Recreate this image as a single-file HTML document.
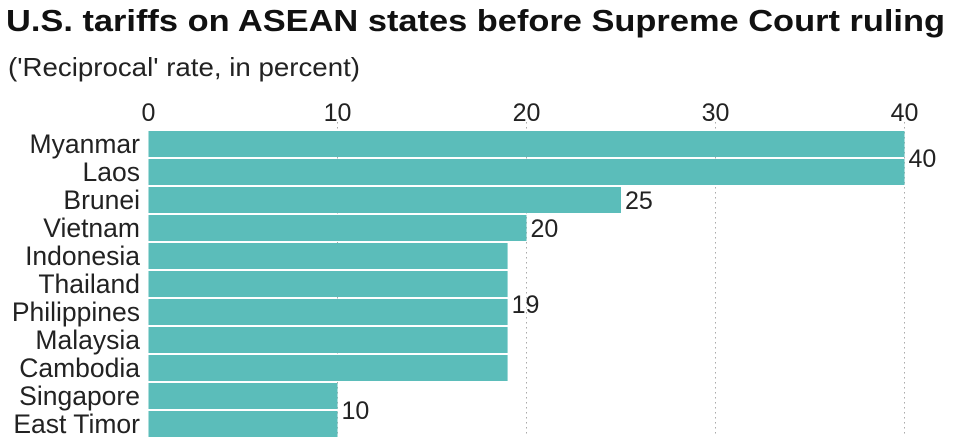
<!DOCTYPE html>
<html><head><meta charset="utf-8"><style>
body{margin:0;background:#fff;width:960px;height:439px;overflow:hidden;font-family:"Liberation Sans",Arial,sans-serif}
</style></head><body>
<svg width="960" height="439" font-family="Liberation Sans, Arial, sans-serif">
<text x="6" y="31" font-size="31" font-weight="bold" fill="#111" textLength="939" lengthAdjust="spacingAndGlyphs">U.S. tariffs on ASEAN states before Supreme Court ruling</text>
<text x="8" y="76" font-size="26" fill="#222" textLength="352" lengthAdjust="spacingAndGlyphs">('Reciprocal' rate, in percent)</text>
<g id="grid"></g><g id="bars"></g><g id="labels"></g>
</svg>
<script>
const categories=["Myanmar","Laos","Brunei","Vietnam","Indonesia","Thailand","Philippines","Malaysia","Cambodia","Singapore","East Timor"];
const values=[40,40,25,20,19,19,19,19,19,10,10];
const ticks=[0,10,20,30,40];
const valueGroups=[[0,1],[2],[3],[4,5,6,7,8],[9,10]];
const NS="http://www.w3.org/2000/svg";
const x0=148.5,k=18.9,y0=131,pitch=28,bh=26;
const xs=v=>x0+v*k, ys=i=>y0+i*pitch;
function mk(t,a,p){const e=document.createElementNS(NS,t);for(const n in a)e.setAttribute(n,a[n]);p.appendChild(e);return e;}
const grid=document.getElementById('grid'),bars=document.getElementById('bars'),labels=document.getElementById('labels');
ticks.forEach(t=>{
 if(t>0){const l=mk('line',{x1:xs(t),x2:xs(t),y1:122,y2:434,stroke:'#aaa','stroke-width':1,'stroke-dasharray':'1.5,3.5'},grid);
 
 }
 const tx=mk('text',{x:xs(t),y:121,'font-size':25,'text-anchor':'middle',fill:'#222'},grid);tx.textContent=t;
 
 
});
categories.forEach((c,i)=>{
 const r=mk('rect',{x:x0,y:ys(i),width:xs(values[i])-x0,height:bh,fill:'#5bbdba'},bars);
 
 
 const t=mk('text',{x:140,y:ys(i)+bh/2+9,'font-size':26.5,'text-anchor':'end',fill:'#222'},labels);t.textContent=c;
 
 
});
valueGroups.forEach(g=>{
 const v=values[g[0]];let cy=(ys(g[0])+ys(g[g.length-1])+bh)/2;
 if(g.length>2)cy-=8;
 const t=mk('text',{x:xs(v)+4,y:cy+9,'font-size':25,fill:'#222'},labels);t.textContent=v;
 
 
});
</script>
</body></html>
